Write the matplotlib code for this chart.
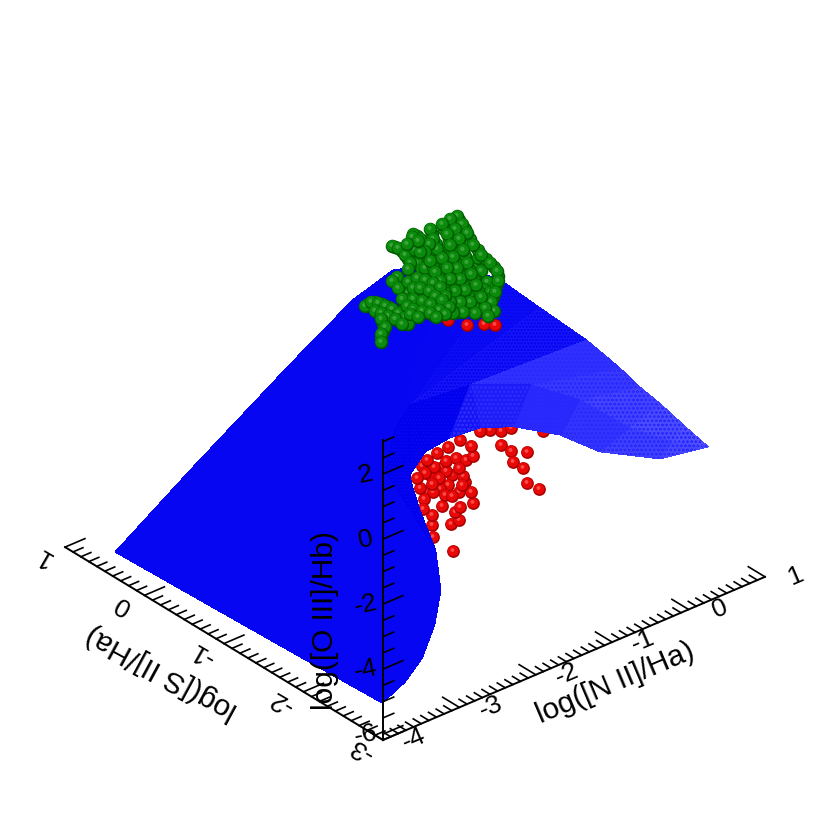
import numpy as np
import matplotlib
matplotlib.use('Agg')
import matplotlib.pyplot as plt
from matplotlib.colors import to_rgba
from matplotlib.markers import MarkerStyle
from matplotlib.transforms import Affine2D
from mpl_toolkits.mplot3d import proj3d

plt.rcParams['font.family'] = ['Liberation Sans', 'DejaVu Sans']

# sheet of models, one row per edge of the sheet (far, middle, near)
sheet_x = [[-3.97, -3.30, -2.30, -1.90, -1.90, -1.79, -1.79, -1.35, -1.35, -1.01, -1.01, -0.80, -0.80, -0.50, -0.50, -0.38, -0.43, -0.37, -0.26, -0.16],
           [-3.97, -3.61, -3.11, -2.95, -2.95, -3.06, -3.06, -3.14, -3.14, -3.22, -3.22, -3.23, -3.23, -2.65, -2.65, -1.97, -1.53, -0.98, -0.53, -0.16],
           [-3.97, -4.00, -4.00, -4.00, -3.76, -3.59, -3.48, -3.45, -3.57, -3.83, -3.92, -3.96, -3.81, -3.54, -3.15, -2.71, -2.10, -1.58, -0.79, -0.16]]
sheet_y = [[0.40, 0.10, -0.20, -0.60, -0.60, -1.00, -1.00, -1.30, -1.30, -1.60, -1.60, -1.90, -1.90, -2.20, -2.20, -2.50, -2.80, -3.00, -3.20, -3.40],
           [0.40, -0.30, -1.00, -1.80, -1.80, -2.00, -2.00, -2.20, -2.20, -2.40, -2.40, -2.60, -2.60, -2.80, -2.80, -2.90, -3.10, -3.20, -3.30, -3.40],
           [0.40, -0.76, -1.89, -2.99, -3.05, -3.10, -3.15, -3.20, -3.25, -3.30, -3.30, -3.30, -3.35, -3.40, -3.40, -3.40, -3.40, -3.40, -3.40, -3.40]]
sheet_z = [[-5.47, -3.18, -0.47, 1.69, 1.69, 3.09, 3.09, 3.35, 3.35, 2.90, 2.90, 2.27, 2.27, 1.42, 1.42, 0.89, 0.80, 0.52, 0.02, -0.42],
           [-5.47, -4.27, -2.96, -1.32, -1.32, -1.83, -1.83, 0.08, 0.08, 1.68, 1.68, 2.76, 2.76, 3.09, 3.09, 2.56, 1.95, 0.69, -0.04, -0.42],
           [-5.47, -5.29, -5.18, -5.06, -4.56, -3.92, -2.95, -1.83, -0.40, 1.17, 1.88, 2.38, 3.01, 3.25, 3.16, 2.76, 1.89, 0.85, -0.16, -0.42]]

# sheet colour, far strip and near strip, getting paler to the right
far_cols = ['#0606f2'] * 8 + ['#0808f2', '#0a0af3', '#0e0ef4', '#1212f5', '#1616f7',
                               '#2a2afc', '#3030ff', '#3a3aff', '#4444ff', '#4c4cff', '#5050ff', '#5050ff']
near_cols = ['#0606f2'] * 8 + ['#0000ec'] * 5 + ['#1414f6', '#1c1cf8', '#2828fc', '#3434ff', '#4040ff',
                                                  '#4848ff', '#4c4cff']

red_y = -2.0
red_x = [-2.06, -2.35, -2.45, -2.19, -1.89, -2.39, -2.11,
         -2.04, -1.78, -2.07, -2.32, -1.97, -2.32, -2.02, -1.95, -1.81, -1.97, -2.22, -2.31, -2.42, -2.43,
         -2.19, -2.15, -2.06, -1.91, -2.13, -2.29, -2.41, -2.23, -2.32, -2.48, -2.52, -2.39, -2.25, -2.13,
         -2.00, -1.87, -1.78, -1.81, -1.95, -2.11, -1.97, -1.93, -2.30, -1.41, -1.28, -1.08, -1.26, -1.13,
         -1.07, -0.92, -1.42, -1.28, -1.56, -0.87, -1.69]
red_z = [-1.46, -1.17, -0.80, -1.07, -1.84, -1.64, -1.72,
         -3.81, -2.61, -2.95, -2.74, -2.92, -2.43, -2.65, -2.56, -2.23, -2.06, -1.73, -1.73, -1.84, -2.14,
         -2.27, -1.98, -2.12, -1.64, -1.28, -0.99, -1.06, -1.37, -1.47, -1.45, -1.10, -0.67, -0.58, -0.97,
         -1.00, -1.18, -1.16, -0.83, -0.48, -0.54, -1.33, -1.90, -3.11, -1.19, -1.50, -1.75, -1.87, -2.19,
         -2.69, -3.03, -0.74, -0.81, -0.59, -1.31, -0.49]

# the few red ones which sit on top of the sheet, under the green
red_top_x = [-2.11, -1.86, -1.64, -1.60, -1.49]
red_top_z = [3.36, 2.96, 2.77, 3.00, 2.59]

green_y = -0.5
green_x = [-0.96, -0.87, -0.96, -0.89, -0.78, -0.67, -0.61, -0.52, -0.43, -0.37, -0.32, -0.19, -0.11, -0.04, -0.09, 0.00,
           -0.04, -0.15, -0.28, -0.41, -0.52, -0.65, -0.78, -0.89, -1.07, -1.11, -0.96, -1.13, -0.15, -0.19, -0.26, -0.43,
           -0.59, -0.72, -0.83, -0.85,
           -0.40, -0.33, -0.26, -0.16, -0.05, 0.05, 0.10, 0.08, 0.04,
           -0.49, -0.43, -0.37, -0.32, -0.27, -0.21, -0.15, -0.09,
           -0.60, -0.54, -0.50, -0.45, -0.41, -0.35, -0.29, -0.22,
           -0.76, -0.71, -0.66, -0.59, -0.54, -0.49, -0.42, -0.37,
           -0.95, -0.85, -0.81, -0.75, -0.68, -0.62, -0.55, -0.50,
           -1.24, -1.15, -1.07,
           -0.90, -0.79, -0.69, -0.62, -1.02,
           -0.95, -0.85, -0.76, -0.67, -0.58,
           -0.95, -0.83, -0.72, -0.63,
           -1.59, -1.50, -1.41, -1.32, -1.24, -1.15, -1.09,
           -1.46, -1.37, -1.28, -1.19,
           -1.40, -1.40, -1.42,
           -1.04, -0.94, -0.83, -0.74,
           -0.43, -0.37, -0.30, -0.22, -0.11, 0.00, 0.09, 0.10, 0.07, 0.02, 0.05,
           -0.52, -0.46, -0.40, -0.35, -0.30, -0.25, -0.18, -0.12, -0.06, -0.03,
           -0.63, -0.56, -0.52, -0.48, -0.43, -0.39, -0.32, -0.26, -0.19,
           -0.78, -0.74, -0.69, -0.63, -0.56, -0.52, -0.46, -0.39, -0.35,
           -1.00, -0.91, -0.80, -0.85, -0.78, -0.72, -0.65, -0.59, -0.52, -0.48,
           -1.28, -1.20, -1.11, -1.04, -1.07, -0.98, -0.91,
           -1.02, -0.94, -1.09,
           -1.22, -1.28, -1.20, -1.15, -1.07, -0.96, -0.85, -0.74, -0.65, -0.59,
           -1.00, -0.91, -0.80, -0.72, -0.63, -0.54,
           -1.00, -0.89, -0.78, -0.67, -0.59,
           -1.63, -1.55, -1.46, -1.37, -1.28, -1.20, -1.11, -1.07,
           -1.50, -1.42, -1.33, -1.24, -1.15,
           -1.42, -1.37, -1.42, -1.42,
           -1.09, -1.00, -0.89, -0.78, -0.70, -1.04, -0.94]
green_z = [2.27, 1.78, 1.72, 1.45, 1.30, 1.29, 1.77, 2.09, 1.80, 1.24, 0.80, 0.87, 0.63, 0.22, 0.06, -0.12,
           -0.38, -0.42, -0.35, -0.32, 0.29, 0.12, 0.55, 0.70, 0.92, 0.77, 0.32, 0.49, 1.08, 0.47, 0.33, 0.20,
           1.00, 0.73, 0.94, 1.46,
           2.50, 2.16, 1.76, 1.33, 0.95, 0.61, 0.28, -0.03, -0.32,
           2.45, 2.10, 1.72, 1.30, 0.87, 0.46, 0.05, -0.36,
           2.41, 2.03, 1.64, 1.25, 0.85, 0.45, 0.04, -0.37,
           2.42, 2.07, 1.72, 1.36, 0.98, 0.58, 0.16, -0.21,
           2.54, 2.30, 1.78, 1.41, 1.05, 0.66, 0.27, -0.10,
           2.52, 2.28, 1.96,
           1.19, 1.00, 0.78, 0.51, 1.27,
           0.97, 0.82, 0.60, 0.36, 0.10,
           0.58, 0.40, 0.15, -0.10,
           1.11, 1.07, 0.91, 0.73, 0.54, 0.33, 0.10,
           0.73, 0.57, 0.38, 0.17,
           0.31, 0.09, -0.10,
           0.45, 0.28, 0.10, -0.10,
           2.65, 2.34, 1.98, 1.54, 1.13, 0.78, 0.44, 0.13, -0.19, -0.44, -0.77,
           2.64, 2.27, 1.92, 1.52, 1.08, 0.67, 0.26, -0.15, -0.56, -0.84,
           2.60, 2.23, 1.84, 1.45, 1.05, 0.66, 0.25, -0.17, -0.58,
           2.60, 2.25, 1.90, 1.55, 1.18, 0.79, 0.37, -0.04, -0.38,
           2.66, 2.42, 2.17, 1.96, 1.60, 1.23, 0.87, 0.45, 0.09, -0.30,
           2.59, 2.45, 2.12, 1.80, 1.67, 2.14, 2.02,
           2.58, 2.39, 2.44,
           1.57, 1.49, 1.20, 0.81, 1.27, 1.27, 1.11, 0.90, 0.67, 0.35,
           1.01, 0.92, 0.72, 0.48, 0.25, -0.04,
           0.66, 0.50, 0.30, -0.01, -0.20,
           1.08, 1.14, 1.01, 0.82, 0.64, 0.45, 0.22, -0.03,
           0.80, 0.66, 0.48, 0.29, 0.06,
           0.46, 0.17, 0.01, -0.22,
           0.54, 0.36, 0.20, 0.00, -0.19, 0.25, 0.04]

x_labels = ['-4', '-3', '-2', '-1', '0', '1']
y_labels = ['-3', '-2', '-1', '0', '1']
z_labels = ['-6', '-4', '-2', '0', '2']
x_major = [-4, -3, -2, -1, 0, 1]
y_major = [-3, -2, -1, 0, 1]
z_major = [-6, -4, -2, 0, 2]

xmin, xmax = -4.0, 1.0
ymin, ymax = -3.0, 1.0
zmin, zmax = -6.18, 3.05


def px(x, y, z):
    u, v, _ = proj3d.proj_transform(x, y, z, ax.get_proj())
    return ax.transData.transform((u, v))


def label(x, y, z, s, rot, size):
    # upright 2D text at the projected place, the rotation of Text3D is fixed by its zdir
    p = px(x, y, z)
    fig.text(p[0] / 830, p[1] / 830, s, fontsize=size, rotation=rot, ha='center', va='center',
             rotation_mode='anchor')


fig = plt.figure(figsize=(8.3, 8.3), dpi=100)
ax = fig.add_axes([0, 0, 1, 1], projection='3d', computed_zorder=False)
ax.set_proj_type('ortho')
ax.view_init(elev=30.6, azim=-130)
ax.set_xlim(xmin, xmax)
ax.set_ylim(ymin, ymax)
ax.set_zlim(zmin, zmax)
ax.set_axis_off()

# size and shift the box so the corner of the axes lands where it should
aspect = (498.7, 494.7, 348.6)
ax.set_box_aspect(aspect, zoom=1)
fig.canvas.draw()
wid = px(xmax, ymin, zmin)[0] - px(xmin, ymin, zmin)[0]
ax.set_box_aspect(aspect, zoom=382.0 / wid)
fig.canvas.draw()
corner = px(xmin, ymin, zmin)
ax.set_position([(383 - corner[0]) / 830, ((830 - 740) - corner[1]) / 830, 1, 1])
fig.canvas.draw()

sx = np.array(sheet_x)
sy = np.array(sheet_y)
sz = np.array(sheet_z)
sheet_cols = np.array([[to_rgba(c) for c in far_cols], [to_rgba(c) for c in near_cols]])

plt.rcParams['hatch.linewidth'] = 0.6
plt.rcParams['hatch.color'] = '#3030ff'
ax.plot_surface(sx[:, :14], sy[:, :14], sz[:, :14], rstride=1, cstride=1, shade=False,
                facecolors=sheet_cols[:, :14], edgecolor='none', antialiased=False, hatch='ooooo', zorder=3)
plt.rcParams['hatch.color'] = '#0000e0'
ax.plot_surface(sx[:, 13:], sy[:, 13:], sz[:, 13:], rstride=1, cstride=1, shade=False,
                facecolors=sheet_cols[:, 13:], edgecolor='none', antialiased=False, hatch='oooo', zorder=3)


def balls(xs, y, zs, size, colors, z0):
    # one ball at a time so that the later ones really cover the earlier ones
    mid = MarkerStyle('o', transform=Affine2D().scale(0.84).translate(-0.03, 0.05))
    top = MarkerStyle('o', transform=Affine2D().scale(0.3).translate(-0.08, 0.12))
    for i in range(len(xs)):
        zo = z0 + i * 0.001
        ax.scatter(xs[i], y, zs[i], s=size, c=colors[0], linewidths=0, depthshade=False, zorder=zo)
        ax.scatter(xs[i], y, zs[i], s=size, c=colors[1], marker=mid, linewidths=0, depthshade=False, zorder=zo)
        ax.scatter(xs[i], y, zs[i], s=size, c=colors[2], marker=top, linewidths=0, depthshade=False, zorder=zo)


red_cols = ['#a80000', '#e80808', '#ff4a4a']
green_cols = ['#005a00', '#0b8b0b', '#3aa43a']
balls(red_x, red_y, red_z, 85, red_cols, 1)
balls(red_top_x, red_y, red_top_z, 85, red_cols, 4)
balls(green_x, green_y, green_z, 95, green_cols, 5)

# axes drawn by hand, mplot3d can not put them on these edges
lw = 1.4
ax.plot([xmin, xmax], [ymin, ymin], [zmin, zmin], 'k', lw=lw, zorder=10)
ax.plot([xmin, xmin], [ymin, ymax], [zmin, zmin], 'k', lw=lw, zorder=10)
ax.plot([xmin, xmin], [ymin, ymin], [zmin, zmax], 'k', lw=lw, zorder=10)

for t in np.arange(-4, 1.01, 0.1):
    ln = 0.21 if abs(t - round(t)) < 0.01 else 0.1
    ax.plot([t, t], [ymin, ymin + ln], [zmin, zmin], 'k', lw=1.2, zorder=10)
for t in np.arange(-3, 1.01, 0.1):
    ln = 0.26 if abs(t - round(t)) < 0.01 else 0.13
    ax.plot([xmin, xmin + ln], [t, t], [zmin, zmin], 'k', lw=1.2, zorder=10)
for t in np.arange(-6, 3.01, 0.5):
    ln = 0.26 if t in z_major else 0.14
    ax.plot([xmin, xmin + ln], [ymin, ymin], [t, t], 'k', lw=1.2, zorder=10)

for t, s in zip(x_major, x_labels):
    label(t, ymin - 0.39, zmin + 0.60, s, 23, 19)
for t, s in zip(y_major, y_labels):
    label(xmin - 0.29, t, zmin, s, 150, 19)
for t, s in zip(z_major, z_labels):
    label(xmin, ymin + 0.22, t - 0.35, s, 12, 19)

label(-1.495, -3.51, zmin, 'log([N II]/Ha)', 23, 21.5)
label(-4.84, -1.025, zmin, 'log([S II]/Ha)', 151.5, 21.5)
label(xmin, -2.27, -3.58, 'log([O III]/Hb)', 90, 21.5)

fig.savefig('out.png', dpi=100)
